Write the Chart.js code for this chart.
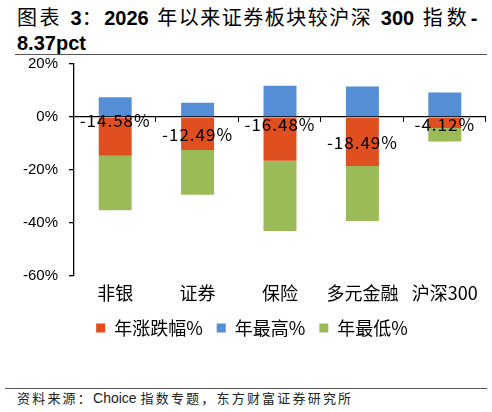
<!DOCTYPE html>
<html><head><meta charset="utf-8">
<script src="https://cdn.jsdelivr.net/npm/chart.js@4/dist/chart.umd.min.js"></script>
<style>
html,body{margin:0;padding:0;background:#fff;}
#wrap{position:relative;width:492px;height:412px;overflow:hidden;}
#title{position:absolute;left:17px;top:4px;font:bold 20px "Liberation Sans",sans-serif;line-height:25px;color:#000;white-space:nowrap;word-spacing:3px;}
#title .c{font-family:"Noto Sans CJK SC",sans-serif;font-weight:normal;letter-spacing:2.5px;}
#title .c2{font-family:"Noto Sans CJK SC",sans-serif;font-weight:normal;letter-spacing:1.5px;}
#title .c3{font-family:"Noto Sans CJK SC",sans-serif;font-weight:normal;letter-spacing:4px;}
#rule1{position:absolute;left:15px;top:54px;width:472px;height:1px;background:#555;}
#rule2{position:absolute;left:5px;top:388px;width:482px;height:1px;background:#555;}
#src{position:absolute;left:17px;top:388px;font:14px "Liberation Sans",sans-serif;color:#222;white-space:nowrap;}
#src .c{font-family:"Noto Sans CJK SC",sans-serif;font-size:13px;letter-spacing:2.2px;}
#cv{position:absolute;left:0;top:56px;}
</style></head>
<body><div id="wrap">
<div id="title"><span class="c">图表</span> 3<span class="c">：</span>2026 <span class="c2">年以来证券板块较沪深</span> 300 <span class="c3">指数</span>-<br>8.37pct</div>
<div id="rule1"></div>
<canvas id="cv" width="492" height="291"></canvas>
<div id="rule2"></div>
<div id="src"><span class="c">资料来源：</span>Choice <span class="c">指数专题，东方财富证券研究所</span></div>
</div>
<script>
const categories = ['非银', '证券', '保险', '多元金融', '沪深300'];
const yearChange = [-14.58, -12.49, -16.48, -18.49, -4.12];
const yearHigh = [7.5, 5.4, 11.8, 11.5, 9.2];
const yearLow = [-35.2, -29.3, -43.0, -39.2, -9.2];
const yTicks = [20, 0, -20, -40, -60];
const seriesNames = ['年涨跌幅%', '年最高%', '年最低%'];

const labelOffsets = [4, 17.5, 7.5, 25.5, 7.5];

const cjk = '"Noto Sans CJK SC", sans-serif';

const extras = {
  id: 'extras',
  afterDatasetsDraw(chart) {
    const ctx = chart.ctx;
    const xs = chart.scales.x, ys = chart.scales.y;
    const y0 = ys.getPixelForValue(0);
    const n = categories.length;
    const step = xs.width / n;
    ctx.save();
    ctx.strokeStyle = '#000';
    ctx.lineWidth = 1;
    for (let i = 1; i <= n; i++) {
      const x = Math.round(xs.left + step * i) - 0.5;
      ctx.beginPath(); ctx.moveTo(x, y0); ctx.lineTo(x, y0 + 5); ctx.stroke();
    }
    const meta = chart.getDatasetMeta(0);
    ctx.fillStyle = '#000';
    ctx.font = '17px ' + cjk;
    ctx.letterSpacing = '1px';
    ctx.textAlign = 'center';
    ctx.textBaseline = 'middle';
    meta.data.forEach((bar, i) => {
      ctx.fillText(yearChange[i].toFixed(2) + '%', bar.x, y0 + labelOffsets[i]);
    });
    ctx.restore();
  }
};

new Chart(document.getElementById('cv'), {
  type: 'bar',
  data: {
    labels: categories,
    datasets: [
      { label: seriesNames[0], data: yearChange.map(v => [0, v]), backgroundColor: '#E04F1F' },
      { label: seriesNames[1], data: yearHigh.map(v => [0, v]), backgroundColor: '#558ED5' },
      { label: seriesNames[2], data: yearChange.map((v, i) => [v, yearLow[i]]), backgroundColor: '#9BBB59' }
    ]
  },
  options: {
    responsive: false,
    animation: false,
    devicePixelRatio: 1,
    layout: { padding: { top: 8, right: 6, left: 18, bottom: 0 } },
    datasets: { bar: { categoryPercentage: 1, barPercentage: 0.4 } },
    scales: {
      x: {
        stacked: true,
        grid: { display: false },
        border: { display: false },
        ticks: { color: '#000', font: { size: 18, family: cjk }, padding: -2, maxRotation: 0, autoSkip: false },
        afterFit(s) { s.height = 29; }
      },
      y: {
        stacked: false,
        min: -60, max: 20,
        afterBuildTicks(s) { s.ticks = yTicks.map(v => ({ value: v })); },
        ticks: { color: '#000', font: { size: 15, family: '"Liberation Sans", sans-serif' }, padding: 11, callback: v => v + '%' },
        grid: {
          color: c => (c.tick && c.tick.value === 0) ? '#000' : 'rgba(0,0,0,0)',
          lineWidth: 1.3,
          tickColor: '#000',
          tickLength: 5
        },
        border: { display: true, color: '#000', width: 1.3 },
        afterFit(s) { s.width = 56; s.paddingTop = 0; s.paddingBottom = 0; }
      }
    },
    plugins: {
      legend: {
        position: 'bottom',
        labels: { color: '#000', font: { size: 18, family: cjk }, boxWidth: 9, boxHeight: 9, padding: 14 }
      },
      tooltip: { enabled: false }
    }
  },
  plugins: [extras]
});
</script>
</body></html>
